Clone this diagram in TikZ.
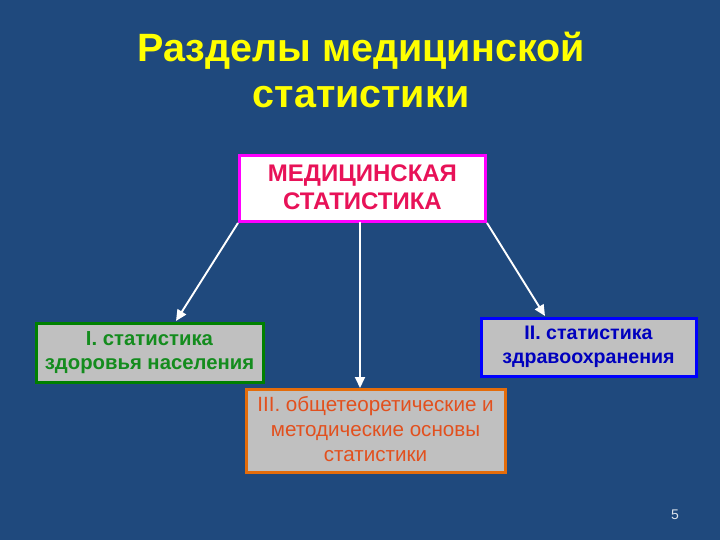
\documentclass[tikz,border=0pt]{standalone}
\usepackage{fontspec}
\setmainfont{Liberation Sans}
\usetikzlibrary{arrows.meta}
\definecolor{bg}{RGB}{31,73,125}
\definecolor{titley}{RGB}{255,255,0}
\definecolor{mag}{RGB}{255,0,255}
\definecolor{crim}{RGB}{232,18,88}
\definecolor{boxgray}{RGB}{192,192,192}
\definecolor{grn}{RGB}{0,128,0}
\definecolor{grntxt}{RGB}{20,140,30}
\definecolor{blu}{RGB}{0,0,255}
\definecolor{blutxt}{RGB}{0,0,190}
\definecolor{org}{RGB}{228,108,10}
\definecolor{orgtxt}{RGB}{226,80,30}
\begin{document}
\begin{tikzpicture}[x=1pt,y=-1pt,
  box/.style={draw, line width=3pt, fill=boxgray, align=center, inner sep=0pt},
  arr/.style={draw=white, line width=1.9pt, -{Triangle[length=11pt,width=10pt]}}]
\fill[bg] (0,0) rectangle (720,540);
\useasboundingbox (0,0) rectangle (720,540);
\node[text=titley, font=\fontsize{39.5}{46}\selectfont\bfseries, align=center] (title) at (361,70) {Разделы медицинской\\статистики};
\node[draw=mag, line width=3pt, fill=white, minimum width=246pt, minimum height=66pt, inner sep=0pt, align=center, text=crim, font=\fontsize{24}{28}\selectfont\bfseries] (main) at (362.5,188.5) {\rule{0pt}{4pt}\\[-18pt]МЕДИЦИНСКАЯ\\СТАТИСТИКА};
\node[box, draw=grn, text=grntxt, minimum width=227pt, minimum height=59pt, font=\fontsize{20.3}{24}\selectfont\bfseries] (b1) at (149.5,352.5) {I. статистика\\здоровья населения};
\node[box, draw=blu, text=blutxt, minimum width=215pt, minimum height=58pt, font=\fontsize{19.6}{24}\selectfont\bfseries] (b2) at (588.5,347) {II. статистика\\здравоохранения};
\node[box, draw=org, text=orgtxt, minimum width=259pt, minimum height=83pt, font=\fontsize{20.6}{25}\selectfont] (b3) at (375.5,430.5) {\rule{0pt}{4pt}\\[-17pt]III. общетеоретические и\\методические основы\\статистики};
\coordinate (e1) at (176,321);
\coordinate (e2) at (545,316);
\coordinate (s3) at (360,222);
\coordinate (e3) at (360,388);
\draw[arr] (main.south west) -- (e1);
\draw[arr] (s3) -- (e3);
\draw[arr] (main.south east) -- (e2);
\node[text=white!85!bg, font=\fontsize{14}{16}\selectfont] (pg) at (675,515) {5};
\end{tikzpicture}
\end{document}
